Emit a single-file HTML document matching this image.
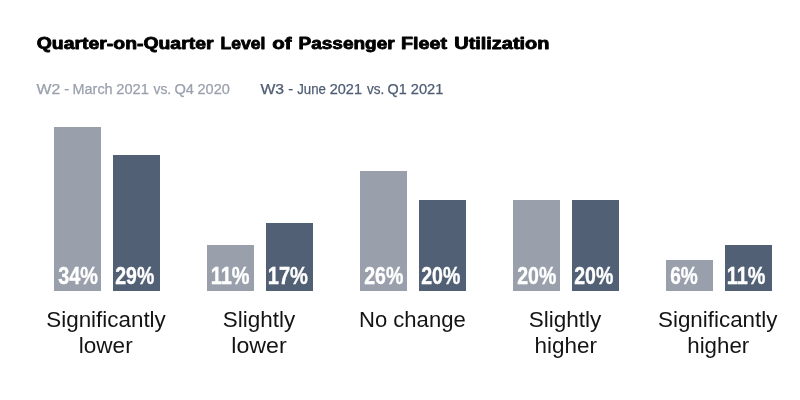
<!DOCTYPE html>
<html lang="en">
<head>
<meta charset="utf-8">
<title>Quarter-on-Quarter Level of Passenger Fleet Utilization</title>
<style>
html,body{margin:0;padding:0;background:#fff;}
body{width:800px;height:400px;overflow:hidden;}
svg{display:block;}
text{font-family:"Liberation Sans",sans-serif;}
.title{font-weight:700;font-size:16px;fill:#000;stroke:#000;stroke-width:0.8px;stroke-linejoin:round;}
.lg{font-size:14px;stroke-width:0.25px;}
.l1{fill:#9aa1ad;stroke:#9aa1ad;}
.l2{fill:#4f5d73;stroke:#4f5d73;}
.val{font-weight:700;font-size:23.8px;fill:#fff;stroke:#fff;stroke-width:0.4px;}
.cat{font-size:21.5px;fill:#141414;}
</style>
</head>
<body>
<svg width="800" height="400" viewBox="0 0 800 400">
<rect width="800" height="400" fill="#fff"/>
<g fill="#99a0ac">
<rect x="54" y="127" width="47" height="164"/>
<rect x="207" y="245" width="47" height="46"/>
<rect x="360" y="171" width="47" height="120"/>
<rect x="513" y="200" width="47" height="91"/>
<rect x="666" y="260" width="47" height="31"/>
</g>
<g fill="#526075">
<rect x="113" y="155" width="47" height="136"/>
<rect x="266" y="223" width="47" height="68"/>
<rect x="419" y="200" width="47" height="91"/>
<rect x="572" y="200" width="47" height="91"/>
<rect x="725" y="245" width="47" height="46"/>
</g>
<g class="title">
<text y="48.8"><tspan x="36.75" textLength="176.75" lengthAdjust="spacingAndGlyphs">Quarter-on-Quarter</tspan> <tspan x="220.5" textLength="44.8" lengthAdjust="spacingAndGlyphs">Level</tspan> <tspan x="272.25" textLength="19.25" lengthAdjust="spacingAndGlyphs">of</tspan> <tspan x="298.5" textLength="96.15" lengthAdjust="spacingAndGlyphs">Passenger</tspan> <tspan x="401.0" textLength="46.01" lengthAdjust="spacingAndGlyphs">Fleet</tspan> <tspan x="454.25" textLength="95.17" lengthAdjust="spacingAndGlyphs">Utilization</tspan></text>
</g>
<g class="lg l1">
<text y="93.5"><tspan x="36.5" textLength="23.64" lengthAdjust="spacingAndGlyphs">W2</tspan> <tspan x="64.25" textLength="4.91" lengthAdjust="spacingAndGlyphs">-</tspan> <tspan x="72.5" textLength="40.16" lengthAdjust="spacingAndGlyphs">March</tspan> <tspan x="116.25" textLength="32.57" lengthAdjust="spacingAndGlyphs">2021</tspan> <tspan x="153.5" textLength="17.71" lengthAdjust="spacingAndGlyphs">vs.</tspan> <tspan x="174.5" textLength="19.52" lengthAdjust="spacingAndGlyphs">Q4</tspan> <tspan x="197.5" textLength="32.4" lengthAdjust="spacingAndGlyphs">2020</tspan></text>
</g>
<g class="lg l2">
<text y="93.5"><tspan x="260.5" textLength="23.63" lengthAdjust="spacingAndGlyphs">W3</tspan> <tspan x="288.25" textLength="4.91" lengthAdjust="spacingAndGlyphs">-</tspan> <tspan x="297.25" textLength="28.73" lengthAdjust="spacingAndGlyphs">June</tspan> <tspan x="329.75" textLength="32.22" lengthAdjust="spacingAndGlyphs">2021</tspan> <tspan x="367.0" textLength="17.27" lengthAdjust="spacingAndGlyphs">vs.</tspan> <tspan x="387.5" textLength="19.17" lengthAdjust="spacingAndGlyphs">Q1</tspan> <tspan x="410.75" textLength="32.52" lengthAdjust="spacingAndGlyphs">2021</tspan></text>
</g>
<g class="val">
<text x="58.25" y="283.9" textLength="39.67" lengthAdjust="spacingAndGlyphs">34%</text>
<text x="115.25" y="283.9" textLength="38.93" lengthAdjust="spacingAndGlyphs">29%</text>
<text x="210.75" y="283.9" textLength="38.81" lengthAdjust="spacingAndGlyphs">11%</text>
<text x="267.75" y="283.9" textLength="40.22" lengthAdjust="spacingAndGlyphs">17%</text>
<text x="364.25" y="283.9" textLength="39.02" lengthAdjust="spacingAndGlyphs">26%</text>
<text x="421.25" y="283.9" textLength="39.07" lengthAdjust="spacingAndGlyphs">20%</text>
<text x="517.25" y="283.9" textLength="39.02" lengthAdjust="spacingAndGlyphs">20%</text>
<text x="574.25" y="283.9" textLength="38.97" lengthAdjust="spacingAndGlyphs">20%</text>
<text x="670.25" y="283.9" textLength="27.58" lengthAdjust="spacingAndGlyphs">6%</text>
<text x="726.75" y="283.9" textLength="38.61" lengthAdjust="spacingAndGlyphs">11%</text>
</g>
<g class="cat">
<text x="46.25" y="327.1" textLength="119.56" lengthAdjust="spacingAndGlyphs">Significantly</text>
<text x="78.75" y="352.5" textLength="53.92" lengthAdjust="spacingAndGlyphs">lower</text>
<text x="222.75" y="327.1" textLength="72.37" lengthAdjust="spacingAndGlyphs">Slightly</text>
<text x="231.25" y="352.5" textLength="55.38" lengthAdjust="spacingAndGlyphs">lower</text>
<text x="359.0" y="327.1" textLength="106.68" lengthAdjust="spacingAndGlyphs">No change</text>
<text x="528.75" y="327.1" textLength="72.62" lengthAdjust="spacingAndGlyphs">Slightly</text>
<text x="534.5" y="352.5" textLength="62.37" lengthAdjust="spacingAndGlyphs">higher</text>
<text x="658.0" y="327.1" textLength="119.41" lengthAdjust="spacingAndGlyphs">Significantly</text>
<text x="687.25" y="352.5" textLength="61.96" lengthAdjust="spacingAndGlyphs">higher</text>
</g>
</svg>
</body>
</html>
